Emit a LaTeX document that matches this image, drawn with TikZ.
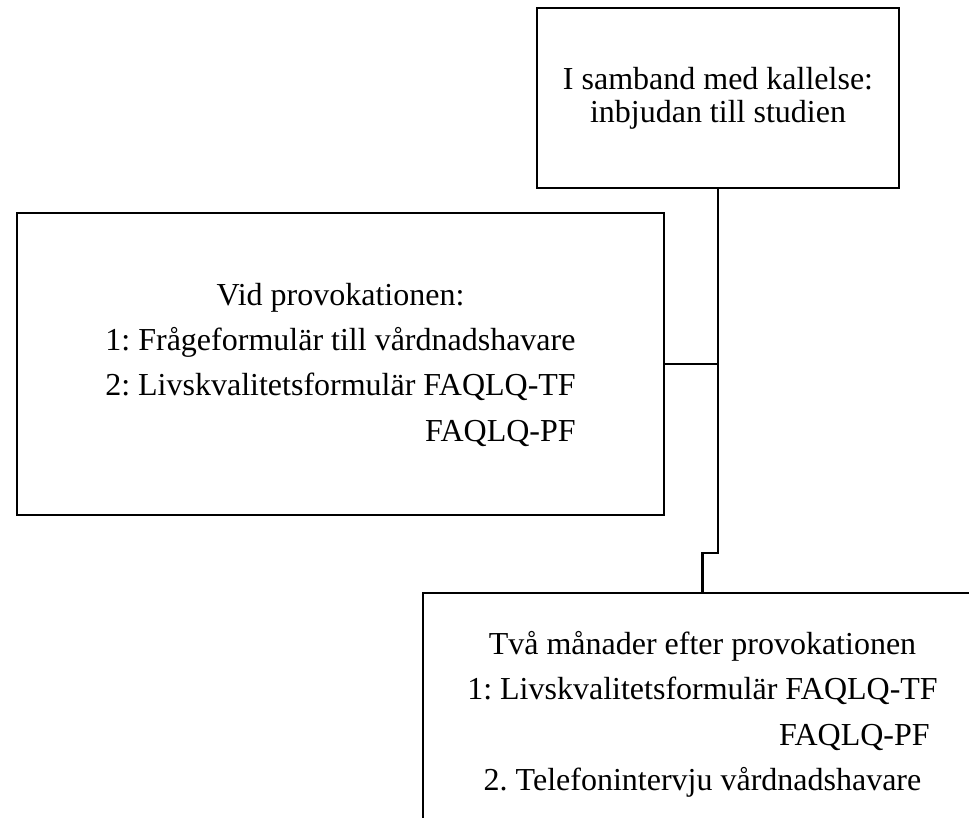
\documentclass[tikz,border=0pt]{standalone}
\usepackage{fontspec}
\setmainfont{Liberation Serif}
\frenchspacing
\tikzset{
  box/.style={draw=black, line width=2pt, inner sep=0pt, rectangle, align=center,
    font=\fontsize{24}{34}\selectfont},
  conn/.style={draw=black, line width=2pt}
}
\begin{document}
\begin{tikzpicture}[x=0.75pt,y=-0.75pt]
\useasboundingbox (0,0) rectangle (969,817);
\node[box, minimum width=271.5pt, minimum height=135pt, font=\fontsize{24}{25}\selectfont] (top) at (718,98)
  {I samband med kallelse:\\inbjudan till studien};
\node[box, minimum width=485.25pt, minimum height=226.5pt] (left) at (340.5,364)
  {\begin{tabular}{@{}c@{}}
  Vid provokationen:\\
  1: Frågeformulär till vårdnadshavare\\
  2: Livskvalitetsformulär FAQLQ-TF\\
  \multicolumn{1}{@{}r@{}}{FAQLQ-PF}
  \end{tabular}};
\node[box, minimum width=419.25pt, minimum height=180.75pt] (bot) at (702.5,713.5)
  {\begin{tabular}{@{}c@{}}
  Två månader efter provokationen\\
  1: Livskvalitetsformulär FAQLQ-TF\\
  \multicolumn{1}{@{}r@{\hspace{6pt}}}{FAQLQ-PF}\\
  2. Telefonintervju vårdnadshavare
  \end{tabular}};
\coordinate (j) at (718,553);
\draw[conn] (top.south) -- (j) -| (bot.north);
\draw[conn] (left.east) -- (left.east -| top.south);
\end{tikzpicture}
\end{document}
